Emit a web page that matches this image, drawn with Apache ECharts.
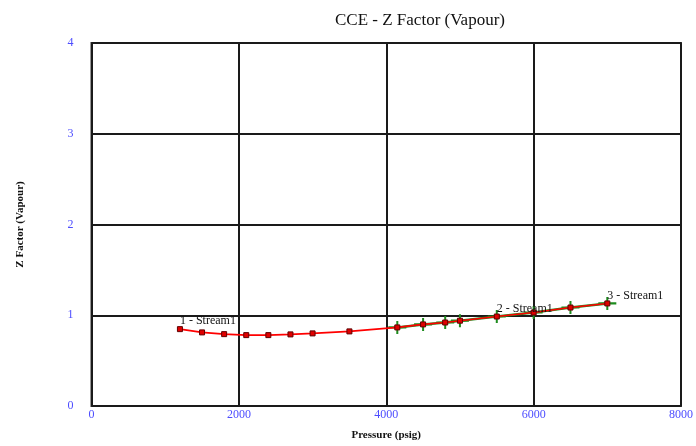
<!DOCTYPE html>
<html>
<head>
<meta charset="utf-8">
<style>
  html, body { margin: 0; padding: 0; background: #ffffff; }
  #chart { width: 696px; height: 446px; }
</style>
<script src="https://cdn.jsdelivr.net/npm/echarts@6/dist/echarts.min.js"></script>
</head>
<body>
<div id="chart"></div>
<script>
// CCE vapour Z factor against pressure
const pressure = [1200, 1500, 1800, 2100, 2400, 2700, 3000, 3500, 4150, 4500, 4800, 5000, 5500, 6000, 6500, 7000];
const zFactor  = [0.847, 0.811, 0.792, 0.781, 0.781, 0.789, 0.800, 0.822, 0.866, 0.899, 0.920, 0.940, 0.986, 1.030, 1.085, 1.130];

// measured points (green crosses)
const measPressure = [4150, 4500, 4800, 5000, 5500, 6000, 6500, 7000];
const measZ        = [0.866, 0.899, 0.920, 0.940, 0.986, 1.030, 1.085, 1.130];

// stream annotations: index into pressure/zFactor
const streamLabels = [
  { index: 0, text: '1 - Stream1' },
  { index: 12, text: '2 - Stream1' },
  { index: 15, text: '3 - Stream1' }
];

const xTicks = [0, 2000, 4000, 6000, 8000];
const yTicks = [0, 1, 2, 3, 4];

const serif = '"Liberation Serif", "DejaVu Serif", serif';

const calcData = pressure.map((p, i) => {
  const lab = streamLabels.find(s => s.index === i);
  const item = { value: [p, zFactor[i]] };
  if (lab) {
    item.label = {
      show: true,
      formatter: lab.text,
      position: 'top',
      align: 'left',
      offset: [0, 6],
      color: '#111',
      fontFamily: serif,
      fontSize: 12
    };
  }
  return item;
});

const chart = echarts.init(document.getElementById('chart'), null, { renderer: 'canvas' });

chart.setOption({
  animation: false,
  backgroundColor: '#ffffff',
  title: {
    text: 'CCE - Z Factor (Vapour)',
    left: 330,
    top: 7,
    textStyle: { fontFamily: serif, fontSize: 17, fontWeight: 'normal', color: '#111' }
  },
  grid: {
    left: 91.5,
    right: 14,
    top: 43,
    bottom: 38,
    show: true,
    borderColor: '#333',
    borderWidth: 2,
    backgroundColor: 'transparent'
  },
  xAxis: {
    type: 'value',
    min: xTicks[0],
    max: xTicks[xTicks.length - 1],
    interval: 2000,
    name: 'Pressure (psig)',
    nameLocation: 'middle',
    nameGap: 24,
    nameTextStyle: { fontFamily: serif, fontSize: 11, fontWeight: 'bold', color: '#111' },
    axisLine: { show: false },
    axisTick: { show: false },
    axisLabel: {
      fontFamily: serif, fontSize: 12, color: '#4d4dff', margin: 3,
      formatter: v => String(v)
    },
    splitLine: { show: true, lineStyle: { color: '#1a1a1a', width: 2 } }
  },
  yAxis: {
    type: 'value',
    min: yTicks[0],
    max: yTicks[yTicks.length - 1],
    interval: 1,
    name: 'Z Factor (Vapour)',
    nameLocation: 'middle',
    nameGap: 66,
    nameRotate: 90,
    nameTextStyle: { fontFamily: serif, fontSize: 11, fontWeight: 'bold', color: '#111' },
    axisLine: { show: false },
    axisTick: { show: false },
    axisLabel: { fontFamily: serif, fontSize: 12, color: '#4d4dff', margin: 18 },
    splitLine: { show: true, lineStyle: { color: '#1a1a1a', width: 2 } }
  },
  series: [
    {
      name: 'Measured',
      type: 'line',
      data: measPressure.map((p, i) => [p, measZ[i]]),
      z: 2,
      lineStyle: { color: '#1e8c1e', width: 2.5 },
      symbol: 'path://M0,5H18V7H0Z M8,0H10V12H8Z',
      symbolSize: [18, 13],
      itemStyle: { color: '#1e8c1e' },
      showAllSymbol: true
    },
    {
      name: 'Calculated',
      type: 'line',
      data: calcData,
      z: 3,
      lineStyle: { color: '#ff0000', width: 1.6 },
      symbol: 'rect',
      symbolSize: 5,
      itemStyle: { color: '#e00000', borderColor: '#600000', borderWidth: 1 },
      showAllSymbol: true
    }
  ]
});
</script>
</body>
</html>
